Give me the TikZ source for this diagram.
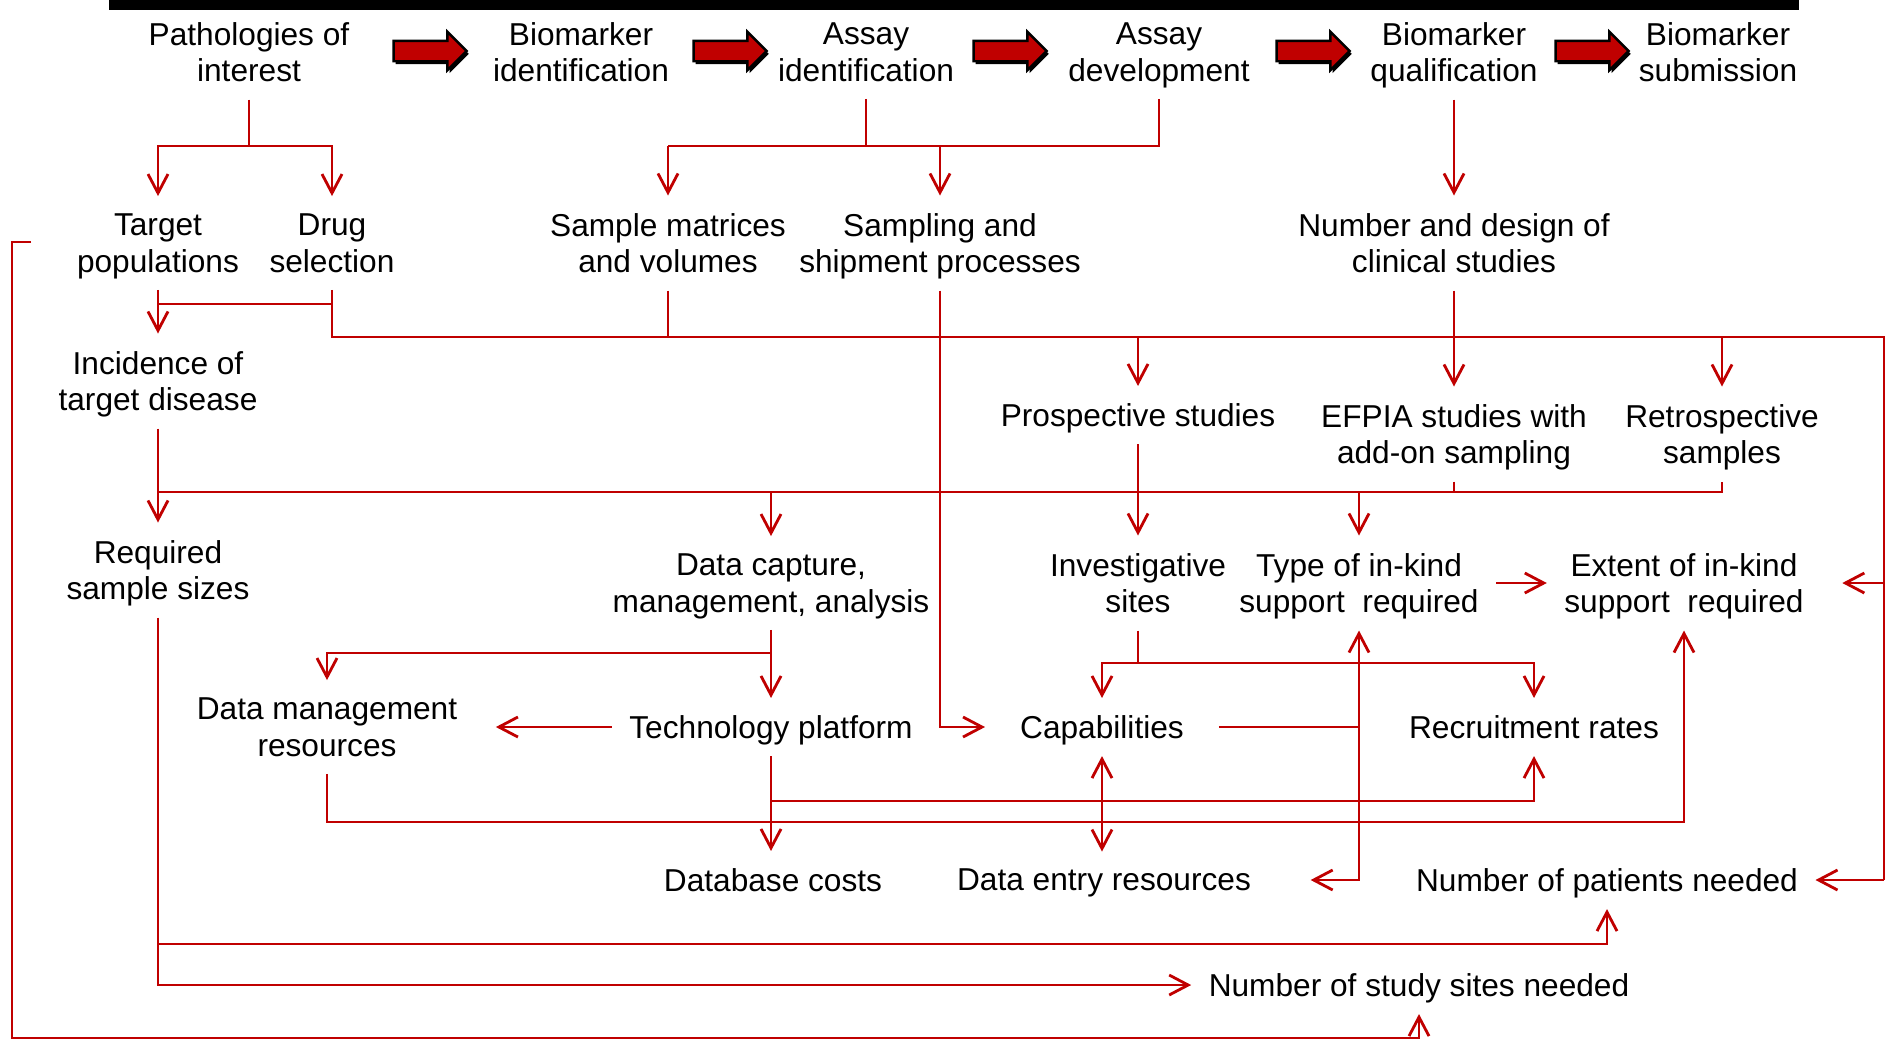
\documentclass[tikz,border=0pt]{standalone}
\usepackage{fontspec}
\setmainfont{Liberation Sans}
\usetikzlibrary{arrows.meta,shapes.arrows}
\definecolor{bmred}{RGB}{192,0,0}
\begin{document}
\begin{tikzpicture}[x=0.01cm, y=-0.01cm, >={Straight Barb[length=1.9mm,width=2mm]}]
\fontsize{9}{10.5}\selectfont

\tikzstyle{lbl}      = [align=center, inner sep=0pt, outer sep=5pt, text depth=0pt, black]
\tikzstyle{blockarr} = [single arrow, draw=black, fill=bmred, line width=0.7pt, inner xsep=0pt, inner ysep=0.9mm,
                        minimum height=7.3mm, single arrow head extend=0.9mm,
                        preaction={fill=black, transform canvas={xshift=0.6pt, yshift=-0.8pt}}]
\tikzstyle{conn}     = [draw=bmred, line width=0.8pt]

\useasboundingbox (0,0) rectangle (1887,1038);
\fill [black] (109,0) rectangle (1799,10);

\node [lbl] (PathInt)   at (249,52)   {Pathologies of\\interest};
\node [lbl] (BioId)     at (581,52)   {Biomarker\\identification};
\node [lbl] (AssayId)   at (866,52)   {Assay\\identification};
\node [lbl] (AssayDev)  at (1159,52)  {Assay\\development};
\node [lbl] (BioQual)   at (1454,52)  {Biomarker\\qualification};
\node [lbl] (BioSub)    at (1718,52)  {Biomarker\\submission};

\node [blockarr] (Arr1) at (425,51)  {};
\node [blockarr] (Arr2) at (725,51)  {};
\node [blockarr] (Arr3) at (1005,51) {};
\node [blockarr] (Arr4) at (1308,51) {};
\node [blockarr] (Arr5) at (1587,51) {};

\node [lbl] (TgtPop)    at (158,243)  {Target\\populations};
\node [lbl] (DrugSel)   at (332,243)  {Drug\\selection};
\node [lbl] (SampMat)   at (668,243)  {Sample matrices\\and volumes};
\node [lbl] (SampShip)  at (940,243)  {Sampling and\\shipment processes};
\node [lbl] (StudyDes)  at (1454,243) {Number and design of\\clinical studies};

\node [lbl] (Incid)     at (158,381)  {Incidence of\\target disease};
\node [lbl] (ProspStud) at (1138,415) {Prospective studies};
\node [lbl] (EfpiaStud) at (1454,434) {EFPIA studies with\\add-on sampling};
\node [lbl] (RetroSamp) at (1722,434) {Retrospective\\samples};

\node [lbl] (ReqSize)   at (158,570)  {Required\\sample sizes};
\node [lbl] (DataCap)   at (771,583)  {Data capture,\\management, analysis};
\node [lbl] (InvSites)  at (1138,583) {Investigative\\sites};
\node [lbl] (TypeSup)   at (1359,583) {Type of in-kind\\support~~required};
\node [lbl] (ExtSup)    at (1684,583) {Extent of in-kind\\support~~required};

\node [lbl] (DataMgmt)  at (327,727)  {Data management\\resources};
\node [lbl] (TechPlat)  at (771,727)  {Technology platform};
\node [lbl] (Capab)     at (1102,727) {Capabilities};
\node [lbl] (Recruit)   at (1534,727) {Recruitment rates};

\node [lbl] (DbCost)    at (773,880)  {Database costs};
\node [lbl] (DataEntry) at (1104,880) {Data entry resources};
\node [lbl] (NumPat)    at (1607,880) {Number of patients needed};
\node [lbl] (NumSites)  at (1419,985) {Number of study sites needed};

\coordinate (PathFork)  at (PathInt.south |- 0,146);
\coordinate (AssayFork) at (AssayId.south |- 0,146);
\draw [conn] (PathInt.south) -- (PathFork);
\draw [conn, ->] (PathFork) -| (TgtPop.north);
\draw [conn, ->] (PathFork) -| (DrugSel.north);
\draw [conn] (AssayId.south) -- (AssayFork);
\draw [conn] (AssayDev.south) |- (SampMat.north |- AssayFork);
\draw [conn, ->] (SampMat.north |- AssayFork) -- (SampMat.north);
\draw [conn, ->] (SampShip.north |- AssayFork) -- (SampShip.north);
\draw [conn, ->] (BioQual.south) -- (StudyDes.north);

\coordinate (Bus1) at (DrugSel.south |- 0,337);
\coordinate (Edge) at (1884,337);
\draw [conn] (DrugSel.south) -- (Bus1) -- (Edge) -- (Edge |- NumPat.east);
\draw [conn] (DrugSel.south |- 0,304) -- (TgtPop.south |- 0,304);
\draw [conn, ->] (TgtPop.south) -- (Incid.north);
\draw [conn] (SampMat.south) -- (SampMat.south |- Bus1);
\draw [conn, ->] (SampShip.south) |- ([xshift=-5pt]Capab.west);
\draw [conn, ->] (ProspStud.north |- Bus1) -- (ProspStud.north);
\draw [conn, ->] (RetroSamp.north |- Bus1) -- (RetroSamp.north);
\draw [conn, ->] (StudyDes.south) -- (EfpiaStud.north);
\draw [conn, ->] (Edge |- ExtSup.east) -- ([xshift=6pt]ExtSup.east);
\draw [conn, ->] (Edge |- NumPat.east) -- (NumPat.east);

\coordinate (Bus2) at (Incid.south |- 0,492);
\draw [conn, ->] (Incid.south) -- (ReqSize.north);
\draw [conn] (Bus2) -- (RetroSamp.south |- Bus2) -- (RetroSamp.south);
\draw [conn] (EfpiaStud.south) -- (EfpiaStud.south |- Bus2);
\draw [conn, ->] (DataCap.north |- Bus2) -- (DataCap.north);
\draw [conn, ->] (TypeSup.north |- Bus2) -- (TypeSup.north);
\draw [conn, ->] (ProspStud.south) -- (InvSites.north);
\draw [conn, ->] (TypeSup.east) -- (ExtSup.west);

\draw [conn, ->] (DataCap.south) -- (TechPlat.north);
\draw [conn, ->] (DataCap.south |- 0,653) -| (DataMgmt.north);
\draw [conn, ->] (TechPlat.west) -- ([xshift=6pt]DataMgmt.east);

\coordinate (InvFork) at (InvSites.south |- 0,663);
\draw [conn] (InvSites.south) -- (InvFork);
\draw [conn, ->] (InvFork) -| (Capab.north);
\draw [conn, ->] (InvFork) -| (Recruit.north);

\draw [conn, ->] ([xshift=5pt]Capab.east) -| (TypeSup.south);
\draw [conn, ->] (Capab.east -| TypeSup.south) |- ([xshift=12pt]DataEntry.east);
\draw [conn, <->] (Capab.south) -- (Capab.south |- DataEntry.north);

\draw [conn, ->] (TechPlat.south) -- (TechPlat.south |- DbCost.north);
\draw [conn, ->] (TechPlat.south |- 0,801) -| (Recruit.south);
\draw [conn, ->] (DataMgmt.south) -- (DataMgmt.south |- 0,822) -| (ExtSup.south);

\draw [conn, ->] (ReqSize.south) |- (NumSites.west);
\draw [conn, ->] (ReqSize.south |- 0,944) -| (NumPat.south);

\coordinate (LoopTop) at (31,242);
\draw [conn, ->] (LoopTop) -- (12,242) -- (12,1038) -| (NumSites.south);
\end{tikzpicture}
\end{document}
